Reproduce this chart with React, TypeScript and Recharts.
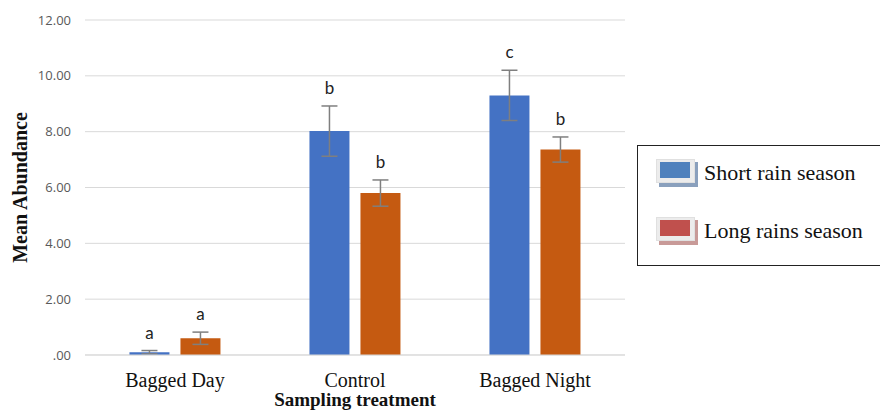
import React from "react";
import { BarChart, Bar, XAxis, YAxis, CartesianGrid, ErrorBar, LabelList } from "recharts";

const categories = ["Bagged Day", "Control", "Bagged Night"];
const shortRain = [0.1, 8.02, 9.3];
const shortRainErr = [0.06, 0.9, 0.9];
const shortRainLetters = ["a", "b", "c"];
const longRains = [0.6, 5.8, 7.36];
const longRainsErr = [0.22, 0.47, 0.45];
const longRainsLetters = ["a", "b", "b"];
const yTicks = [0, 2, 4, 6, 8, 10, 12];
const seriesNames = ["Short rain season", "Long rains season"];

const data = categories.map((c, i) => ({
  name: c,
  short: shortRain[i],
  shortErr: shortRainErr[i],
  shortLetter: shortRainLetters[i],
  long: longRains[i],
  longErr: longRainsErr[i],
  longLetter: longRainsLetters[i],
}));

const fmt = (v: number) => (v === 0 ? ".00" : v.toFixed(2));

const makeLetter = (errs: number[], vals: number[]) => (props: any) => {
  const { x, y, width, height, value, index } = props;
  const pxPerUnit = height / vals[index];
  const errTop = y - errs[index] * pxPerUnit;
  return (
    <text
      x={x + width / 2}
      y={errTop - 12}
      textAnchor="middle"
      fontFamily="Lato, 'Liberation Sans', sans-serif"
      fontSize={17}
      fill="#222"
    >
      {value}
    </text>
  );
};

const Swatch = ({ color, shadow }: { color: string; shadow: string }) => (
  <div style={{ position: "relative", width: 42, height: 28, marginRight: 6 }}>
    <div style={{ position: "absolute", left: 3, top: 3, width: 39, height: 25, background: shadow }} />
    <div style={{ position: "absolute", left: 0, top: 0, width: 39, height: 24, background: "#ececec", border: "1px solid #e0e0e0", boxSizing: "border-box" }} />
    <div style={{ position: "absolute", left: 4, top: 3, width: 30, height: 16, background: color }} />
  </div>
);

const LegendBox = () => (
  <div
    style={{
      position: "absolute",
      left: 637,
      top: 145,
      width: 260,
      height: 121,
      border: "1px solid #222",
      boxSizing: "border-box",
      background: "#fff",
      fontFamily: "'Liberation Serif', 'Times New Roman', serif",
      fontSize: 22,
      color: "#111",
      paddingLeft: 18,
      paddingTop: 12,
    }}
  >
    <div style={{ display: "flex", alignItems: "center", height: 30, marginBottom: 28 }}>
      <Swatch color="#4F81BD" shadow="#8aa0bd" />
      <span>{seriesNames[0]}</span>
    </div>
    <div style={{ display: "flex", alignItems: "center", height: 30 }}>
      <Swatch color="#C0504D" shadow="#c89a98" />
      <span>{seriesNames[1]}</span>
    </div>
  </div>
);

export default function App() {
  return (
    <div style={{ position: "absolute", left: 0, top: 0, width: 880, height: 410, background: "#fff" }}>
      <BarChart
        width={880}
        height={410}
        data={data}
        margin={{ top: 20, right: 255, left: 0, bottom: 0 }}
        barCategoryGap="24.7%"
        barGap={11}
      >
        <CartesianGrid vertical={false} stroke="#d9d9d9" />
        <XAxis
          dataKey="name"
          height={55}
          axisLine={{ stroke: "#d9d9d9" }}
          tickLine={false}
          tick={{ fontFamily: "'Liberation Serif', 'Times New Roman', serif", fontSize: 20, fill: "#111" }}
          tickMargin={12}
          label={{
            value: "Sampling treatment",
            position: "insideBottom",
            offset: 4,
            style: { fontFamily: "'Liberation Serif', 'Times New Roman', serif", fontSize: 19, fontWeight: "bold", fill: "#111" },
          }}
        />
        <YAxis
          width={85}
          domain={[0, 12]}
          ticks={yTicks}
          tickFormatter={fmt}
          axisLine={false}
          tickLine={false}
          tickMargin={8}
          tick={{ fontFamily: "'Open Sans', 'Liberation Sans', sans-serif", fontSize: 13, fill: "#595959" }}
          label={{
            value: "Mean Abundance",
            angle: -90,
            position: "insideLeft",
            offset: 20,
            style: { textAnchor: "middle", fontFamily: "'Liberation Serif', 'Times New Roman', serif", fontSize: 20, fontWeight: "bold", fill: "#111" },
          }}
        />
        <Bar dataKey="short" name={seriesNames[0]} fill="#4472C4" isAnimationActive={false}>
          <ErrorBar dataKey="shortErr" width={8} stroke="#7f7f7f" strokeWidth={1.5} />
          <LabelList dataKey="shortLetter" content={makeLetter(shortRainErr, shortRain)} />
        </Bar>
        <Bar dataKey="long" name={seriesNames[1]} fill="#C55A11" isAnimationActive={false}>
          <ErrorBar dataKey="longErr" width={8} stroke="#7f7f7f" strokeWidth={1.5} />
          <LabelList dataKey="longLetter" content={makeLetter(longRainsErr, longRains)} />
        </Bar>
      </BarChart>
      <LegendBox />
    </div>
  );
}
